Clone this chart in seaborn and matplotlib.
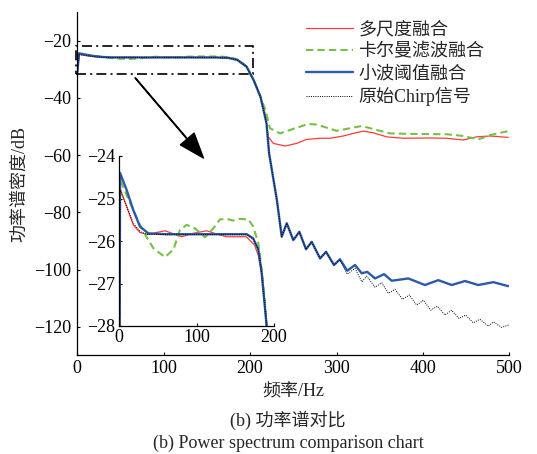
import matplotlib
matplotlib.use('Agg')
import matplotlib.pyplot as plt
from matplotlib.patches import Rectangle
import seaborn as sns

# main plot, 0-500 Hz
freq_multi = [0, 2, 10, 20, 30, 40, 60, 80, 110, 140, 165, 178, 188, 196, 204, 212, 217.2, 221, 226.9,
              240.4, 253.9, 265.5, 281, 292.5, 307.9, 319.5, 331, 342.6, 358, 377.3, 408.2, 427.5, 446.8,
              462.3, 477.7, 498.8]
psd_multi = [-31, -24.8, -25.2, -25.6, -25.8, -25.85, -25.75, -25.9, -25.75, -25.9, -25.9, -26.3, -27.0,
             -29.1, -33.7, -39.6, -45.4, -53.6, -55.9, -56.8, -55.9, -54.5, -54.1, -54.1, -53.3, -52.4,
             -51.6, -52.2, -53.6, -54.1, -54.0, -54.1, -54.7, -53.6, -53.3, -53.8]

freq_kalman = [0, 2, 10, 20, 30, 45, 60, 75, 90, 110, 125, 140, 165, 178, 188, 196, 204, 212, 218, 223,
               234.6, 246.2, 267.4, 277, 300.2, 315.6, 329.2, 346.5, 361.9, 388.9, 427.5, 446.8, 464.1,
               477.7, 498.8]
psd_kalman = [-31, -24.6, -25.0, -25.3, -25.8, -26.2, -26.4, -26.1, -25.6, -25.9, -25.6, -25.5, -25.5,
              -25.9, -26.8, -29.1, -33.7, -39.6, -44.5, -50.6, -52.4, -51.2, -49.1, -49.3, -51.5, -50.6,
              -49.8, -51.2, -52.4, -52.6, -52.7, -53.3, -54.5, -53.0, -51.6]

freq_wavelet = [0, 2, 10, 20, 30, 40, 80, 120, 160, 175, 185, 196, 204, 212, 219, 222, 231, 236.6, 242.4,
                250, 257, 264.7, 271.3, 281, 287.9, 297.1, 304, 312.5, 321.4, 329.2, 335.6, 344.6, 355,
                363.9, 383.1, 402.4, 417.8, 433.3, 448.7, 464.1, 481.5, 499]
psd_wavelet = [-31, -24.4, -24.9, -25.4, -25.7, -25.85, -25.85, -25.85, -25.85, -26.0, -26.7, -29.1, -33.7,
               -39.6, -48.9, -59.4, -75.7, -88.5, -83.8, -89.7, -86.8, -92.9, -90.3, -96.1, -93.8, -98.4,
               -96.4, -100.4, -98.4, -101.3, -100.8, -103.1, -101.6, -103.9, -103.1, -105.4, -103.7,
               -105.4, -104.0, -105.4, -104.4, -105.8]

freq_chirp = [0, 2, 10, 20, 30, 40, 80, 120, 160, 175, 185, 196, 204, 212, 219, 222, 231, 236.6, 242.4,
              250, 257, 264.7, 271.3, 281, 287.9, 297.1, 304, 312.5, 321.4, 329.2, 335, 344.6, 352.3, 360,
              367.7, 376.6, 384.3, 392.8, 400.5, 409, 416.7, 425.6, 433.3, 441.8, 449.5, 458.3, 466,
              475.7, 481.5, 491.2, 499]
psd_chirp = [-31, -24.8, -25.2, -25.6, -25.8, -25.85, -25.85, -25.85, -25.85, -26.0, -26.7, -29.1, -33.7,
             -39.6, -48.9, -59.4, -75.7, -88.5, -83.8, -89.7, -86.8, -92.9, -90.3, -96.1, -93.8, -98.4,
             -96.6, -101.6, -99.6, -104.3, -102.3, -106.2, -104.6, -108.3, -106.9, -110.4, -108.9,
             -112.4, -110.7, -114.2, -112.8, -115.9, -114.2, -117.1, -115.9, -118.6, -117.4, -119.8,
             -118.3, -120.2, -119.4]

# inset, zoomed pass band
in_freq_multi = [0, 1, 9.5, 18, 26.7, 37, 48, 59, 70, 80.6, 95, 113, 125, 138.7, 164, 175, 180, 184, 186,
                 190.4, 192]
in_psd_multi = [-31, -24.76, -25.19, -25.62, -25.8, -25.85, -25.8, -25.76, -25.83, -25.9, -25.82, -25.76,
                -25.83, -25.9, -25.9, -26.1, -26.37, -26.76, -27.15, -28.0, -28.5]

in_freq_kalman = [0, 1, 9.5, 18, 26.7, 35, 44, 59, 70, 78.4, 87, 97.7, 110.7, 121.5, 130, 141, 147, 155.5,
                  166.7, 173, 179.6, 184, 188, 190.4, 192]
in_psd_kalman = [-31, -24.56, -24.92, -25.27, -25.62, -25.9, -26.17, -26.38, -26.2, -25.74, -25.62, -25.7,
                 -25.91, -25.7, -25.49, -25.49, -25.52, -25.48, -25.49, -25.66, -26.05, -26.68, -27.4,
                 -28.0, -28.5]

in_freq_wavelet = [0, 1, 9.5, 18, 26.7, 37.5, 60, 100, 140, 164.6, 173, 179.6, 184, 186, 190.4, 192]
in_psd_wavelet = [-31, -24.4, -24.8, -25.27, -25.66, -25.82, -25.84, -25.84, -25.84, -25.84, -25.94, -26.2,
                  -26.76, -27.15, -28.0, -28.5]

in_freq_chirp = [0, 1, 9.5, 18, 27, 35, 60, 100, 140, 164.6, 173, 179.6, 184, 186, 190.4, 192]
in_psd_chirp = [-31, -24.8, -25.19, -25.58, -25.78, -25.84, -25.85, -25.85, -25.85, -25.85, -25.95, -26.2,
                -26.76, -27.15, -28.0, -28.5]

labels = ['多尺度融合', '卡尔曼滤波融合', '小波阈值融合', '原始Chirp信号']

# zoom box and arrow in main axes data units
box_x = (-1, 203)
box_y = (-31.5, -22)
arrow_from = (67, -33)
arrow_to = (146, -61)

sns.set_style('ticks')
plt.rcParams['font.family'] = ['Liberation Serif', 'Noto Sans CJK SC']
plt.rcParams['font.size'] = 13
plt.rcParams['axes.unicode_minus'] = True

styles = [
    dict(color='#ff3b3b', lw=0.9, ls='-'),
    dict(color='#76c043', lw=1.5, ls=(0, (3.5, 2))),
    dict(color='#2b5ba8', lw=1.7, ls='-'),
    dict(color='black', lw=0.7, ls=(0, (1, 1.3))),
]

fig = plt.figure(figsize=(5.37, 4.54), dpi=100)
ax = fig.add_axes([77.3 / 537, (454 - 355.4) / 454, 432 / 537, 343.3 / 454])

main_series = [(freq_multi, psd_multi), (freq_kalman, psd_kalman),
               (freq_wavelet, psd_wavelet), (freq_chirp, psd_chirp)]
for (fx, fy), lab, st in zip(main_series, labels, styles):
    sns.lineplot(x=fx, y=fy, ax=ax, label=lab, color=st['color'], linewidth=st['lw'],
                 linestyle=st['ls'], sort=False, estimator=None)

ax.set_xlim(0, 500)
ax.set_ylim(-130, -10)
ax.set_xticks([0, 100, 200, 300, 400, 500])
ax.set_yticks([-120, -100, -80, -60, -40, -20])
ax.set_xlabel('频率/Hz')
ax.set_ylabel('功率谱密度/dB')
ax.xaxis.set_label_coords(0.5, -0.083)
ax.yaxis.set_label_coords(-0.114, 0.5)
ax.tick_params(direction='in', length=2.5, width=0.8, colors='black')
ax.tick_params(axis='x', pad=3)
ax.tick_params(axis='y', pad=4.5)
sns.despine(ax=ax)
for s in ['left', 'bottom']:
    ax.spines[s].set_linewidth(0.9)
    ax.spines[s].set_color('black')

ax.add_patch(Rectangle((box_x[0], box_y[0]), box_x[1] - box_x[0], box_y[1] - box_y[0], fill=False,
                       ec='black', lw=1.2, ls=(0, (6, 2.5, 1.2, 2.5)), clip_on=False, zorder=5))
ax.annotate('', xy=arrow_to, xytext=arrow_from,
            arrowprops=dict(facecolor='black', edgecolor='black', width=0.4, headwidth=13,
                            headlength=18, shrink=0))

leg = ax.legend(loc='upper left', bbox_to_anchor=(306 / 537, 1 - 21.5 / 454), bbox_transform=fig.transFigure,
                frameon=False, borderpad=0, borderaxespad=0, handlelength=2.6, handletextpad=0.3,
                labelspacing=0.27, fontsize=13)

# inset
ins = fig.add_axes([119.3 / 537, (454 - 326) / 454, 154.8 / 537, 170 / 454])
ins.patch.set_alpha(0)
inset_series = [(in_freq_multi, in_psd_multi), (in_freq_kalman, in_psd_kalman),
                (in_freq_wavelet, in_psd_wavelet), (in_freq_chirp, in_psd_chirp)]
for (fx, fy), st in zip(inset_series, styles):
    sns.lineplot(x=fx, y=fy, ax=ins, color=st['color'], linewidth=st['lw'],
                 linestyle=st['ls'], sort=False, estimator=None, legend=False)
ins.set_xlim(0, 200)
ins.set_ylim(-28, -24)
ins.set_xticks([0, 100, 200])
ins.set_yticks([-28, -27, -26, -25, -24])
ins.tick_params(direction='in', length=2.5, width=0.8, colors='black')
ins.tick_params(axis='x', pad=2.5)
ins.tick_params(axis='y', pad=3)
sns.despine(ax=ins)
for s in ['left', 'bottom']:
    ins.spines[s].set_linewidth(0.9)
    ins.spines[s].set_color('black')

fig.text(288 / 537, 1 - 420.7 / 454, '(b) 功率谱对比', ha='center', va='center', fontsize=13)
fig.text(288 / 537, 1 - 443 / 454, '(b) Power spectrum comparison chart', ha='center', va='center',
         fontsize=13)

fig.savefig('out.png', dpi=100)
